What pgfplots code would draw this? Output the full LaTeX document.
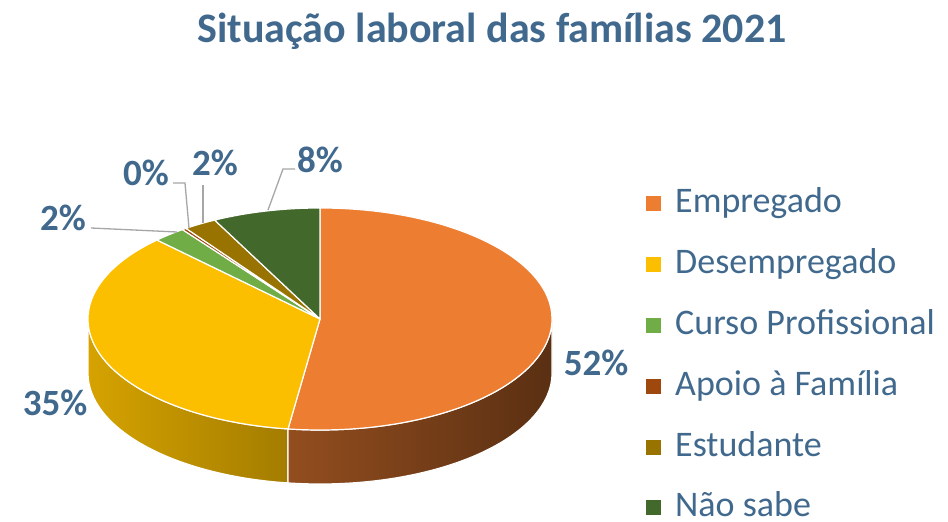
\documentclass[border=0pt]{standalone}
\usepackage{pgfplots}
\pgfplotsset{compat=1.18}
\usepackage{pgfplotstable}
\usepackage{fontspec}
\setmainfont{Carlito}
\definecolor{cEmp}{HTML}{ED7D31}
\definecolor{cDes}{HTML}{FBBF00}
\definecolor{cCur}{HTML}{70AD47}
\definecolor{cApo}{HTML}{9E480E}
\definecolor{cEst}{HTML}{997300}
\definecolor{cNao}{HTML}{43682B}
\definecolor{txt}{HTML}{41698D}
\definecolor{lead}{HTML}{A6A6A6}

\pgfplotstableread{
name value
Empregado 52.2
Desempregado 35.4
Curso 2.3
Apoio 0.3
Estudante 2.3
NaoSabe 7.5
}\piedata

\begin{document}
\begin{tikzpicture}
% cumulative angles (clockwise from top)
\xdef\cumul{90}
\foreach \i/\n in {0/a,1/b,2/c,3/d,4/e,5/f}{
  \pgfplotstablegetelem{\i}{value}\of\piedata
  \expandafter\xdef\csname s\n\endcsname{\cumul}
  \pgfmathsetmacro\nxt{\cumul-3.6*\pgfplotsretval}
  \xdef\cumul{\nxt}
  \expandafter\xdef\csname e\n\endcsname{\cumul}
}
\pgfmathsetmacro\sideB{\ea+360}
\begin{axis}[
  width=948pt, height=522pt, scale only axis,
  xmin=0, xmax=948, ymin=0, ymax=522,
  hide axis, clip=false,
]
\path (axis cs:0,0) rectangle (axis cs:948,522);
% side faces
\shade[left color=cDes!85!black, right color=cDes!62!black, draw=white, line width=1.2pt]
  (axis cs:320,203) ++(180:232pt and 111pt)
  arc[start angle=180, end angle=\sideB, x radius=232pt, y radius=111pt]
  -- ++(0,-54pt)
  arc[start angle=\sideB, end angle=180, x radius=232pt, y radius=111pt] -- cycle;
\shade[left color=cEmp!62!black, right color=cEmp!38!black, draw=white, line width=1.2pt]
  (axis cs:320,203) ++(\ea:232pt and 111pt)
  arc[start angle=\ea, end angle=0, x radius=232pt, y radius=111pt]
  -- ++(0,-54pt)
  arc[start angle=0, end angle=\ea, x radius=232pt, y radius=111pt] -- cycle;
% top faces
\fill[cEmp, draw=white, line width=1.2pt, line join=round]
  (axis cs:320,203) -- ++(\sa:232pt and 111pt)
  arc[start angle=\sa, end angle=\ea, x radius=232pt, y radius=111pt] -- cycle;
\fill[cDes, draw=white, line width=1.2pt, line join=round]
  (axis cs:320,203) -- ++(\sb:232pt and 111pt)
  arc[start angle=\sb, end angle=\eb, x radius=232pt, y radius=111pt] -- cycle;
\fill[cCur, draw=white, line width=1.2pt, line join=round]
  (axis cs:320,203) -- ++(\sc:232pt and 111pt)
  arc[start angle=\sc, end angle=\ec, x radius=232pt, y radius=111pt] -- cycle;
\fill[cApo, draw=white, line width=1.2pt, line join=round]
  (axis cs:320,203) -- ++(\sd:232pt and 111pt)
  arc[start angle=\sd, end angle=\ed, x radius=232pt, y radius=111pt] -- cycle;
\fill[cEst, draw=white, line width=1.2pt, line join=round]
  (axis cs:320,203) -- ++(\se:232pt and 111pt)
  arc[start angle=\se, end angle=\ee, x radius=232pt, y radius=111pt] -- cycle;
\fill[cNao, draw=white, line width=1.2pt, line join=round]
  (axis cs:320,203) -- ++(\sf:232pt and 111pt)
  arc[start angle=\sf, end angle=\ef, x radius=232pt, y radius=111pt] -- cycle;
% leader lines
\draw[lead, line width=1.3pt] (axis cs:91,294) -- (axis cs:177,290);
\draw[lead, line width=1.3pt] (axis cs:173,339) -- (axis cs:185,339) -- (axis cs:189,294);
\draw[lead, line width=1.3pt] (axis cs:203,337) -- (axis cs:203,299);
\draw[lead, line width=1.3pt] (axis cs:295,353) -- (axis cs:283,353) -- (axis cs:268,312);
% data labels
\node[text=txt, font=\fontsize{37}{37}\selectfont\bfseries, inner sep=0pt] at (axis cs:596,159) {52\%};
\node[text=txt, font=\fontsize{37}{37}\selectfont\bfseries, inner sep=0pt] at (axis cs:55,119) {35\%};
\node[text=txt, font=\fontsize{37}{37}\selectfont\bfseries, inner sep=0pt] at (axis cs:63,304) {2\%};
\node[text=txt, font=\fontsize{37}{37}\selectfont\bfseries, inner sep=0pt] at (axis cs:146,349) {0\%};
\node[text=txt, font=\fontsize{37}{37}\selectfont\bfseries, inner sep=0pt] at (axis cs:215,359) {2\%};
\node[text=txt, font=\fontsize{37}{37}\selectfont\bfseries, inner sep=0pt] at (axis cs:320,362) {8\%};
% title
\node[anchor=base, text=txt, font=\fontsize{42}{42}\selectfont\bfseries, inner sep=0pt] at (axis cs:492,479) {Situação laboral das famílias 2021};
% legend
\fill[cEmp] (axis cs:646,310.5) rectangle (axis cs:661,325.5);
\fill[cDes] (axis cs:646,249.7) rectangle (axis cs:661,264.7);
\fill[cCur] (axis cs:646,188.9) rectangle (axis cs:661,203.9);
\fill[cApo] (axis cs:646,128.1) rectangle (axis cs:661,143.1);
\fill[cEst] (axis cs:646,67.3) rectangle (axis cs:661,82.3);
\fill[cNao] (axis cs:646,6.5) rectangle (axis cs:661,21.5);
\node[anchor=base west, text=txt, font=\fontsize{36}{36}\selectfont, inner sep=0pt] at (axis cs:675,309) {Empregado};
\node[anchor=base west, text=txt, font=\fontsize{36}{36}\selectfont, inner sep=0pt] at (axis cs:675,248.2) {Desempregado};
\node[anchor=base west, text=txt, font=\fontsize{36}{36}\selectfont, inner sep=0pt] at (axis cs:675,187.4) {Curso Profissional};
\node[anchor=base west, text=txt, font=\fontsize{36}{36}\selectfont, inner sep=0pt] at (axis cs:675,126.6) {Apoio à Família};
\node[anchor=base west, text=txt, font=\fontsize{36}{36}\selectfont, inner sep=0pt] at (axis cs:675,65.8) {Estudante};
\node[anchor=base west, text=txt, font=\fontsize{36}{36}\selectfont, inner sep=0pt] at (axis cs:675,5.5) {Não sabe};
\end{axis}
\end{tikzpicture}
\end{document}
